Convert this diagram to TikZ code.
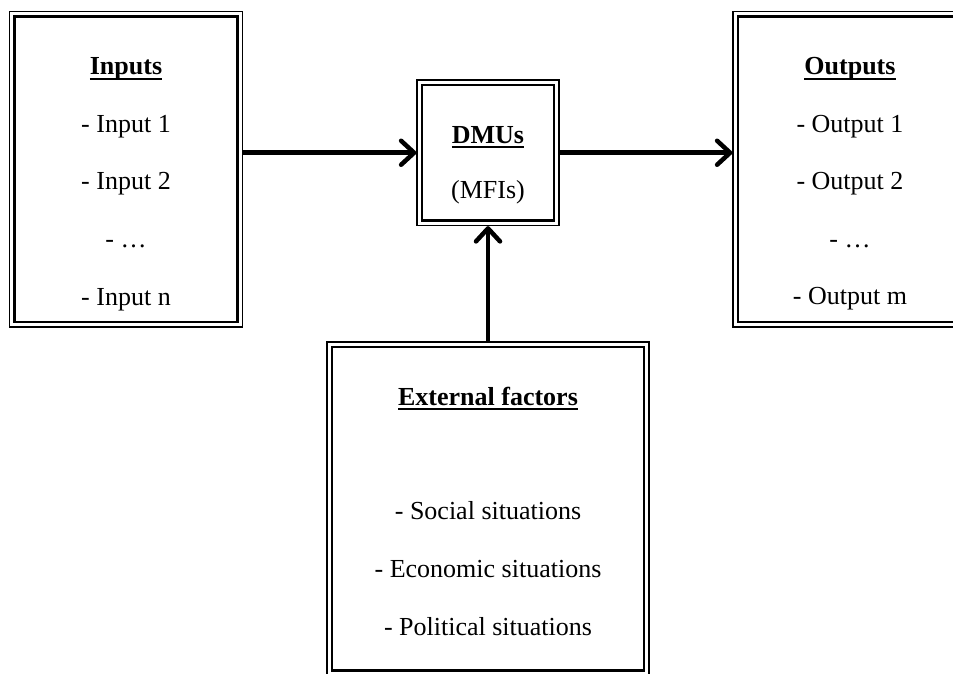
\documentclass[tikz,border=0pt]{standalone}
\usepackage{fontspec}
\setmainfont{Liberation Serif}
\usetikzlibrary{arrows.meta,calc}
\newcommand\myul[1]{\leavevmode\setbox0=\hbox{#1}\rlap{\rule[-0.2em]{\wd0}{0.1em}}\box0}
\tikzset{
  outerbox/.style={draw, line width=1.3pt, inner sep=0pt},
  innerline/.style={line width=2.6pt},
  txt/.style={anchor=base, inner sep=0pt},
  conn/.style={line width=4.5pt, -{Straight Barb[length=13pt,width=24pt,round]}}
}
\begin{document}
\begin{tikzpicture}[x=1pt,y=-1pt,font=\fontsize{26}{30}\selectfont]
\clip (0,0) rectangle (953,674);
\fill[white] (0,0) rectangle (953,674);
% boxes
\node[outerbox, minimum width=233pt, minimum height=315.5pt] (inbox) at (126,169.25) {};
\node[outerbox, minimum width=234pt, minimum height=315.5pt] (outbox) at (850,169.25) {};
\node[outerbox, minimum width=142pt, minimum height=145.5pt] (dmu) at (488,152.75) {};
\node[outerbox, minimum width=322pt, minimum height=333.5pt] (ext) at (488,508.75) {};
\foreach \b in {inbox,outbox,dmu,ext}{
  \draw[innerline] ([shift={(5.5pt,-5.5pt)}]\b.north west) rectangle ([shift={(-5.5pt,5.5pt)}]\b.south east);
}
% texts
\node[txt] (i0) at (126,75) {\myul{\textbf{Inputs}}};
\node[txt] (i1) at (126,132) {- Input 1};
\node[txt] (i2) at (126,189) {- Input 2};
\node[txt] (i3) at (126,247) {- …};
\node[txt] (i4) at (126,305) {- Input n};
\node[txt] (o0) at (850,75) {\myul{\textbf{Outputs}}};
\node[txt] (o1) at (850,132) {- Output 1};
\node[txt] (o2) at (850,189) {- Output 2};
\node[txt] (o3) at (850,247) {- …};
\node[txt] (o4) at (850,304) {- Output m};
\node[txt] (d0) at (488,143) {\myul{\textbf{DMUs}}};
\node[txt] (d1) at (488,198) {(MFIs)};
\node[txt] (e0) at (488,405) {\myul{\textbf{External factors}}};
\node[txt] (e1) at (488,519) {- Social situations};
\node[txt] (e2) at (488,577) {- Economic situations};
\node[txt] (e3) at (488,635) {- Political situations};
% connectors
\draw[conn] (dmu.west -| inbox.east) -- (dmu.west);
\draw[conn] (dmu.east) -- (dmu.east -| outbox.west);
\draw[conn] (ext.north) -- (dmu.south);
\end{tikzpicture}
\end{document}
